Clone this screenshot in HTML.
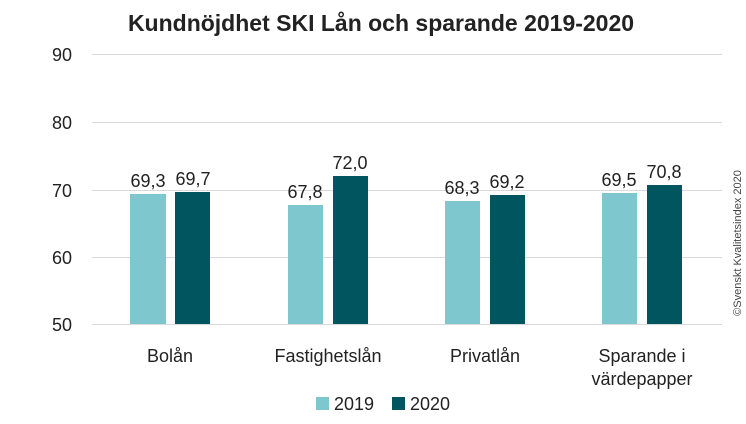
<!DOCTYPE html>
<html><head><meta charset="utf-8"><style>html,body{margin:0;padding:0;background:#fff}</style></head>
<body>
<svg width="746" height="419" xmlns="http://www.w3.org/2000/svg" font-family="Liberation Sans, sans-serif">
<rect width="746" height="419" fill="#fff"/>
<text x="381" y="31" text-anchor="middle" font-size="23" font-weight="bold" fill="#222">Kundnöjdhet SKI Lån och sparande 2019-2020</text>
<g stroke="#d9d9d9" stroke-width="1">
<line x1="92" y1="54.5" x2="722" y2="54.5"/>
<line x1="92" y1="122.5" x2="722" y2="122.5"/>
<line x1="92" y1="190.5" x2="722" y2="190.5"/>
<line x1="92" y1="257.5" x2="722" y2="257.5"/>
<line x1="92" y1="324.5" x2="722" y2="324.5"/>
</g>
<g font-size="18" fill="#222" text-anchor="end">
<text x="72" y="61">90</text><text x="72" y="129">80</text><text x="72" y="197">70</text><text x="72" y="264">60</text><text x="72" y="331">50</text>
</g>
<g fill="#7fc7cf">
<rect x="130" y="194" width="36" height="130"/>
<rect x="288" y="205" width="35" height="119"/>
<rect x="445" y="201" width="35" height="123"/>
<rect x="602" y="193" width="35" height="131"/>
</g>
<g fill="#00555e">
<rect x="175" y="192" width="35" height="132"/>
<rect x="333" y="176" width="35" height="148"/>
<rect x="490" y="195" width="35" height="129"/>
<rect x="647" y="185" width="35" height="139"/>
</g>
<g font-size="18" fill="#222" text-anchor="middle">
<text x="148" y="187">69,3</text><text x="193" y="185">69,7</text>
<text x="305" y="198">67,8</text><text x="350" y="169">72,0</text>
<text x="462" y="194">68,3</text><text x="507" y="188">69,2</text>
<text x="619" y="186">69,5</text><text x="664" y="178">70,8</text>
<text x="170" y="362">Bolån</text>
<text x="328" y="362">Fastighetslån</text>
<text x="485" y="362">Privatlån</text>
<text x="642" y="362">Sparande i</text>
<text x="642" y="385">värdepapper</text>
</g>
<rect x="316" y="397" width="13" height="13" fill="#7fc7cf"/>
<text x="334" y="410" font-size="18" fill="#222">2019</text>
<rect x="392" y="397" width="13" height="13" fill="#00555e"/>
<text x="410" y="410" font-size="18" fill="#222">2020</text>
<text transform="translate(741,243) rotate(-90)" text-anchor="middle" font-size="11" fill="#444">©Svenskt Kvalitetsindex 2020</text>
</svg>
</body></html>
